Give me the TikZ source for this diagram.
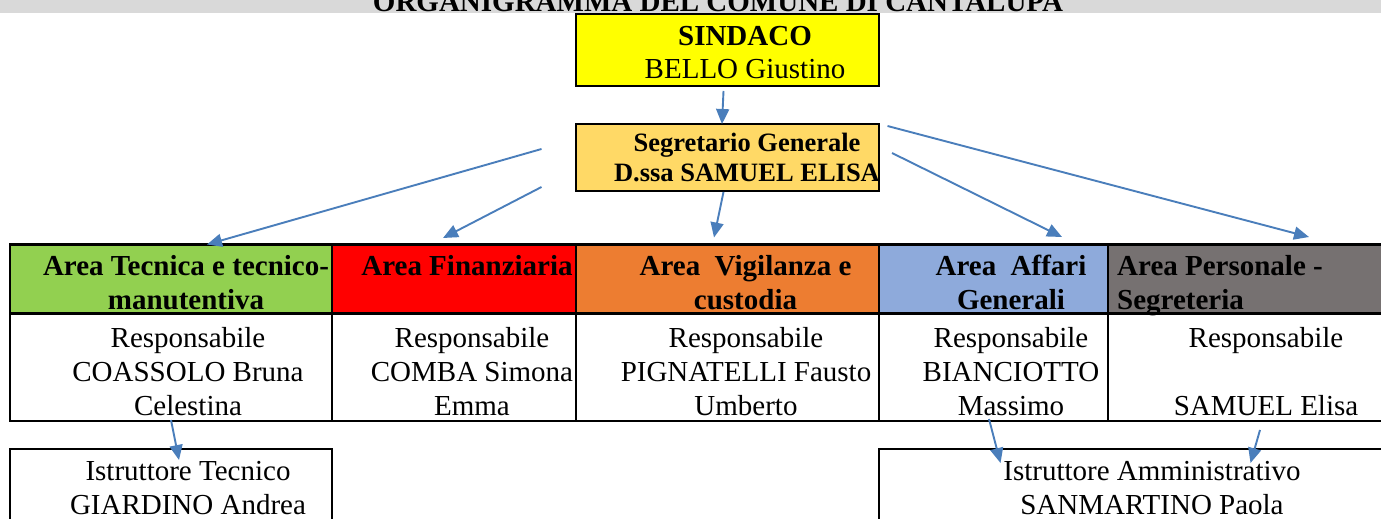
\documentclass[tikz,border=0pt]{standalone}
\usepackage{fontspec}
\setmainfont{Liberation Serif}
\usetikzlibrary{arrows.meta,calc,positioning}
\definecolor{barcol}{HTML}{D9D9D9}
\definecolor{sindcol}{HTML}{FFFF00}
\definecolor{segrcol}{HTML}{FFD966}
\definecolor{tecncol}{HTML}{92D050}
\definecolor{fincol}{HTML}{FF0000}
\definecolor{vigcol}{HTML}{ED7D31}
\definecolor{affcol}{HTML}{8EAADB}
\definecolor{perscol}{HTML}{767171}
\definecolor{arrowblue}{HTML}{4A7EBB}
\newcommand\bodysize{\fontsize{29}{34}\selectfont}
\newcommand\sindsize{\fontsize{29}{33}\selectfont}
\newcommand\segrsize{\fontsize{26.5}{30}\selectfont}
\tikzstyle{box}=[
  draw=black,
  inner sep=0pt,
  outer sep=0pt,
  line width=2.8pt,
  rectangle,
]
\tikzstyle{cell}=[
  box,
  minimum height=69pt,
]
\tikzstyle{respcell}=[
  box,
  minimum height=107.5pt,
]
\tikzstyle{txt}=[
  inner sep=0pt,
  align=center,
  anchor=north,
  font=\bodysize,
]
\tikzstyle{areatxt}=[
  txt,
  font=\bfseries\bodysize,
]
\tikzstyle{arrow}=[
  color=arrowblue,
  line width=1.9pt,
  -{Triangle[length=15pt,width=13pt]},
]
\begin{document}
\begin{tikzpicture}[x=1pt, y=-1pt]
      \useasboundingbox (0,0) rectangle (1381,519);
      \fill [barcol] (0,-20) rectangle (1381,13.5);
      \node (titolo) [anchor=base, font=\bfseries\bodysize] at (718,11.5) {ORGANIGRAMMA DEL COMUNE DI CANTALUPA};
      %%
      \node (sindaco) [box, fill=sindcol, minimum width=303pt, minimum height=72pt] at (727.5,50) {};
      \node (sindacotxt) [txt, font=\sindsize] at ($(sindaco.north)+(17.5,12)$) {\textbf{SINDACO}\\BELLO Giustino};
      \node (segretario) [box, fill=segrcol, minimum width=303pt, minimum height=67pt, below=38pt of sindaco] {};
      \node (segretariotxt) [txt, font=\bfseries\segrsize] at ($(segretario.north)+(19.5,9)$) {Segretario Generale\\D.ssa SAMUEL ELISA};
      %%
      \node (tecnica) [cell, fill=tecncol, minimum width=322pt, anchor=north west] at (10,244.5) {};
      \node (finanza) [cell, fill=fincol, minimum width=244pt, right=0pt of tecnica] {};
      \node (vigilanza) [cell, fill=vigcol, minimum width=303pt, right=0pt of finanza] {};
      \node (affari) [cell, fill=affcol, minimum width=229pt, right=0pt of vigilanza] {};
      \node (personale) [cell, fill=perscol, minimum width=281pt, right=0pt of affari] {};
      \node (tecnicaresp) [respcell, minimum width=322pt, below=0pt of tecnica] {};
      \node (finanzaresp) [respcell, minimum width=244pt, below=0pt of finanza] {};
      \node (vigilanzaresp) [respcell, minimum width=303pt, below=0pt of vigilanza] {};
      \node (affariresp) [respcell, minimum width=229pt, below=0pt of affari] {};
      \node (personaleresp) [respcell, minimum width=281pt, below=0pt of personale] {};
      %%
      \node (tecnicatxt) [areatxt] at ($(tecnica.north)+(15,10.2)$) {Area Tecnica e tecnico-\\manutentiva};
      \node (finanzatxt) [areatxt] at ($(finanza.north)+(13,10.2)$) {Area Finanziaria};
      \node (vigilanzatxt) [areatxt] at ($(vigilanza.north)+(18,10.2)$) {Area~~Vigilanza e\\custodia};
      \node (affaritxt) [areatxt] at ($(affari.north)+(17.5,10.2)$) {Area~~Affari\\Generali};
      \node (personaletxt) [areatxt, align=left, anchor=north west] at ($(personale.north west)+(9,10.2)$) {Area Personale -\\Segreteria};
      \node (tecnicaresptxt) [txt] at ($(tecnicaresp.north)+(17,13.2)$) {Responsabile\\COASSOLO Bruna\\Celestina};
      \node (finanzaresptxt) [txt] at ($(finanzaresp.north)+(18,13.2)$) {Responsabile\\COMBA Simona\\Emma};
      \node (vigilanzaresptxt) [txt] at ($(vigilanzaresp.north)+(18.5,13.2)$) {Responsabile\\PIGNATELLI Fausto\\Umberto};
      \node (affariresptxt) [txt] at ($(affariresp.north)+(17.5,13.2)$) {Responsabile\\BIANCIOTTO\\Massimo};
      \node (personaleresptxt) [txt] at ($(personaleresp.north)+(17.5,13.2)$) {Responsabile\\~\\SAMUEL Elisa};
      %%
      \node (istrtec) [box, minimum width=322pt, minimum height=100pt, anchor=north west] at ($(tecnicaresp.south west)+(0,28)$) {};
      \node (istramm) [box, minimum width=510pt, minimum height=100pt, anchor=north west] at ($(affariresp.south west)+(0,28)$) {};
      \node (istrtectxt) [txt] at ($(istrtec.north)+(17,12.2)$) {Istruttore Tecnico\\GIARDINO Andrea};
      \node (istrammtxt) [txt] at ($(istramm.north)+(18,12.2)$) {Istruttore Amministrativo\\SANMARTINO Paola};
      %%
      \draw [arrow] ($(sindaco.south)+(-4,5)$) -- ($(segretario.north)+(-5.5,0)$);
      \draw [arrow] ($(segretario.west)+(-34.5,-8.5)$) -- ($(tecnica.north)+(36,0)$);
      \draw [arrow] ($(segretario.west)+(-34.5,29.5)$) -- ($(finanza.north)+(-11,-6.5)$);
      \draw [arrow] ($(segretario.south)+(-4,1)$) -- ($(vigilanza.north)+(-13.5,-7)$);
      \draw [arrow] ($(segretario.east)+(13,-4.5)$) -- ($(affari.north)+(68.5,-7.5)$);
      \draw [arrow] ($(segretario.north east)+(8.5,2)$) -- ($(personale.north)+(60.5,-7.5)$);
      \draw [arrow] ($(tecnicaresp.south)+(0,-1)$) -- ($(istrtec.north)+(8,11)$);
      \draw [arrow] ($(affariresp.south)+(-4.5,-2)$) -- ($(istramm.north west)+(121.5,14)$);
      \draw [arrow] ($(personaleresp.south)+(11.5,9)$) -- ($(istramm.north west)+(371.5,14)$);
    \end{tikzpicture}
\end{document}
